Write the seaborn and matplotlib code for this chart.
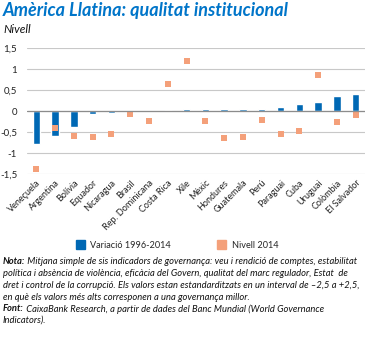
import matplotlib
matplotlib.use("Agg")
import matplotlib.pyplot as plt
import seaborn as sns
import pandas as pd
from matplotlib.patches import Patch
from matplotlib.ticker import FuncFormatter

countries = ["Veneçuela", "Argentina", "Bolívia", "Equador", "Nicaragua", "Brasil",
             "Rep. Dominicana", "Costa Rica", "Xile", "Mèxic", "Hondures", "Guatemala",
             "Perú", "Paraguai", "Cuba", "Uruguai", "Colòmbia", "El Salvador"]
variacio = [-0.79, -0.59, -0.37, -0.07, -0.05, -0.01, -0.01, 0.02, 0.05, 0.06, 0.06,
            0.06, 0.06, 0.09, 0.17, 0.22, 0.36, 0.40]
nivell = [-1.38, -0.40, -0.60, -0.62, -0.54, -0.06, -0.23, 0.65, 1.18, -0.24, -0.65,
          -0.61, -0.22, -0.55, -0.48, 0.86, -0.26, -0.10]
yticks = [-1.5, -1, -0.5, 0, 0.5, 1, 1.5]

BLUE = "#0068B4"
ORANGE = "#F4A07A"
TITLE_BLUE = "#0075C9"
FONT = ["Lato", "DejaVu Sans"]

sns.set_style("white")
plt.rcParams["font.family"] = FONT

df = pd.DataFrame({"pais": countries, "var": variacio, "niv": nivell})

fig = plt.figure(figsize=(3.74, 3.38), dpi=100)
ax = fig.add_axes([0.072, 0.485, 0.904, 0.373])

sns.barplot(data=df, x="pais", y="var", order=countries, color=BLUE, width=0.4,
            saturation=1, ax=ax, zorder=3)
sns.stripplot(data=df, x="pais", y="niv", order=countries, color=ORANGE, marker="s",
              size=4.6, jitter=False, ax=ax, zorder=4, linewidth=0)

ax.set_ylim(-1.5, 1.5)
ax.set_xlim(-0.5, len(countries) - 0.5)
ax.set_yticks(yticks)
ax.yaxis.set_major_formatter(FuncFormatter(lambda v, p: ("%g" % v).replace(".", ",")))
ax.grid(axis="y", color="#C8C8C8", linewidth=0.8, zorder=0)
ax.axhline(0, color="#8C8C8C", linewidth=0.9, zorder=5)
for s in ax.spines.values():
    s.set_visible(False)
ax.set_xlabel("")
ax.set_ylabel("")
ax.tick_params(axis="y", length=0, labelsize=7, pad=7, colors="#222222")
ax.tick_params(axis="x", length=0, labelsize=6.5, pad=3, colors="#222222")
for lab in ax.get_xticklabels():
    lab.set_rotation(45)
    lab.set_horizontalalignment("right")
    lab.set_rotation_mode("anchor")

fig.text(0.008, 0.968, "Amèrica Llatina: qualitat institucional", fontsize=13,
         fontweight="bold", fontstyle="italic", color=TITLE_BLUE, va="center", ha="left")
fig.text(0.008, 0.912, "Nivell", fontsize=8.5, fontstyle="italic", color="#111111",
         va="center", ha="left")

handles = [Patch(color=BLUE, label="Variació 1996-2014"),
           Patch(color=ORANGE, label="Nivell 2014")]
fig.legend(handles=handles, loc="center", bbox_to_anchor=(0.473, 0.275), ncol=2,
           frameon=False, fontsize=6.6, handlelength=1.0, handleheight=1.0,
           columnspacing=5.0, handletextpad=0.6)

lines = [
    ("Nota:", " Mitjana simple de sis indicadors de governança: veu i rendició de comptes, estabilitat"),
    ("", "política i absència de violència, eficàcia del Govern, qualitat del marc regulador, Estat  de"),
    ("", "dret i control de la corrupció. Els valors estan estandarditzats en un interval de –2,5 a +2,5,"),
    ("", "en què els valors més alts corresponen a una governança millor."),
    ("Font:", " CaixaBank Research, a partir de dades del Banc Mundial (World Governance"),
    ("", "Indicators)."),
]
renderer = fig.canvas.get_renderer()
y0 = 338 - 262
for i, (b, rest) in enumerate(lines):
    ypx = y0 - i * 11.7
    x = 3 / 374
    if b:
        t = fig.text(x, ypx / 338, b, fontsize=6.75, fontweight="bold", fontstyle="italic",
                     va="center", ha="left", color="#111111")
        bb = t.get_window_extent(renderer)
        x = bb.x1 / fig.bbox.width
    fig.text(x, ypx / 338, rest, fontsize=6.75, fontstyle="italic", va="center",
             ha="left", color="#111111")

fig.savefig("out.png", dpi=100)
